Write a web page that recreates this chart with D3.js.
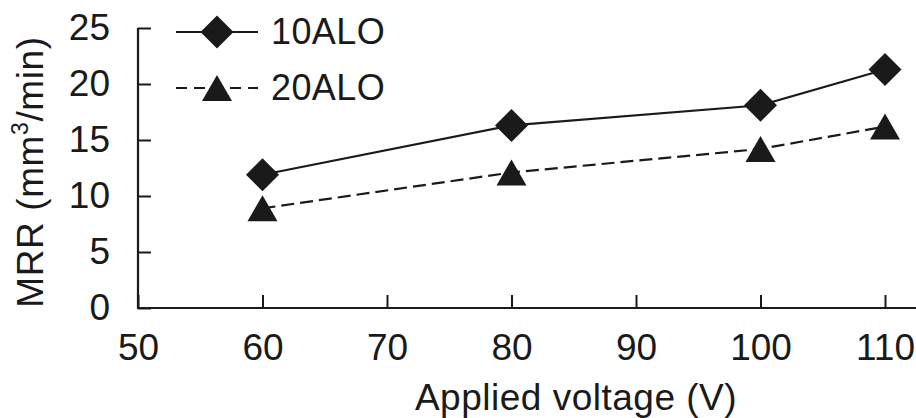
<!DOCTYPE html>
<html>
<head>
<meta charset="utf-8">
<script src="https://cdn.jsdelivr.net/npm/d3@7"></script>
<style>
  html, body { margin: 0; padding: 0; background: #fff; }
  svg { display: block; }
  text { font-family: "Liberation Sans", Arial, Helvetica, sans-serif; fill: #1a1a1a; }
</style>
</head>
<body>
<svg id="chart" width="916" height="418"></svg>
<script>
// Applied voltage (V)
const voltages = [60, 80, 100, 110];
// MRR (mm^3/min) for each electrolyte
const mrr10ALO = [11.9, 16.3, 18.1, 21.3];
const mrr20ALO = [8.9, 12.1, 14.2, 16.2];
const seriesNames = ["10ALO", "20ALO"];
const xTicks = [50, 60, 70, 80, 90, 100, 110];
const yTicks = [0, 5, 10, 15, 20, 25];

const ink = "#1a1a1a";
const svg = d3.select("#chart");

const x = d3.scaleLinear().domain([50, 110]).range([138, 885]);
const y = d3.scaleLinear().domain([0, 25]).range([308, 28]);

// Marker shapes
const diamond = {
  draw(ctx, size) {
    const r = Math.sqrt(size) / 2;
    ctx.moveTo(0, -r); ctx.lineTo(r, 0); ctx.lineTo(0, r); ctx.lineTo(-r, 0); ctx.closePath();
  }
};
const triangle = {
  draw(ctx, size) {
    const w = Math.sqrt(size) / 2;
    const h = w * 0.87;
    ctx.moveTo(0, -h); ctx.lineTo(w, h); ctx.lineTo(-w, h); ctx.closePath();
  }
};

// Axes (ticks point inward)
const xAxis = d3.axisBottom(x).tickValues(xTicks).tickSize(-13).tickPadding(26).tickSizeOuter(0);
const gx = svg.append("g").attr("transform", `translate(0,${y(0)})`).call(xAxis);
gx.select(".domain").remove();
gx.append("line")
  .attr("x1", x(50)).attr("x2", 916).attr("y1", 0).attr("y2", 0)
  .attr("stroke", ink).attr("stroke-width", 2.2);
gx.selectAll(".tick line").attr("stroke", ink).attr("stroke-width", 2);
gx.selectAll(".tick text").attr("font-size", 37).attr("fill", ink)
  .attr("font-family", "Liberation Sans, Arial, sans-serif");

const yAxis = d3.axisLeft(y).tickValues(yTicks).tickSize(-13).tickPadding(28).tickSizeOuter(0);
const gy = svg.append("g").attr("transform", `translate(${x(50)},0)`).call(yAxis);
gy.select(".domain").remove();
gy.append("line")
  .attr("x1", 0).attr("x2", 0).attr("y1", y(25)).attr("y2", y(0) + 1)
  .attr("stroke", ink).attr("stroke-width", 2.2);
gy.selectAll(".tick line").attr("stroke", ink).attr("stroke-width", 2);
gy.selectAll(".tick text").attr("font-size", 37).attr("fill", ink)
  .attr("font-family", "Liberation Sans, Arial, sans-serif");

// Axis titles
svg.append("text")
  .attr("x", 576).attr("y", 410)
  .attr("text-anchor", "middle")
  .attr("font-size", 37)
  .attr("letter-spacing", 0.5)
  .text("Applied voltage (V)");

const yTitle = svg.append("text")
  .attr("transform", "translate(43,172) rotate(-90)")
  .attr("text-anchor", "middle")
  .attr("font-size", 37)
  .attr("letter-spacing", 0.6);
yTitle.append("tspan").text("MRR (mm");
yTitle.append("tspan").attr("font-size", 23).attr("dy", -15).text("3");
yTitle.append("tspan").attr("dy", 15).text("/min)");

// Series
const line = d3.line().x(d => x(d[0])).y(d => y(d[1]));
const series = [
  { name: seriesNames[0], values: mrr10ALO, dash: null, shape: diamond, size: 33 * 33 },
  { name: seriesNames[1], values: mrr20ALO, dash: "13,6", shape: triangle, size: 30 * 30 }
];

series.forEach(s => {
  const pts = voltages.map((v, i) => [v, s.values[i]]);
  svg.append("path")
    .attr("d", line(pts))
    .attr("fill", "none")
    .attr("stroke", ink)
    .attr("stroke-width", 2.2)
    .attr("stroke-dasharray", s.dash);
  svg.append("g").selectAll("path")
    .data(pts)
    .join("path")
    .attr("transform", d => `translate(${x(d[0])},${y(d[1])})`)
    .attr("d", d3.symbol(s.shape, s.size))
    .attr("fill", ink);
});

// Legend
const legend = svg.append("g");
series.forEach((s, i) => {
  const ly = 32 + i * 56;
  legend.append("line")
    .attr("x1", 176).attr("x2", 258).attr("y1", ly).attr("y2", ly)
    .attr("stroke", ink).attr("stroke-width", 2.2)
    .attr("stroke-dasharray", s.dash ? "11,7" : null);
  legend.append("path")
    .attr("transform", `translate(217,${ly})`)
    .attr("d", d3.symbol(s.shape, s.size))
    .attr("fill", ink);
  legend.append("text")
    .attr("x", 271).attr("y", ly + 12)
    .attr("font-size", 36)
    .attr("letter-spacing", 0.4)
    .text(s.name);
});
</script>
</body>
</html>
